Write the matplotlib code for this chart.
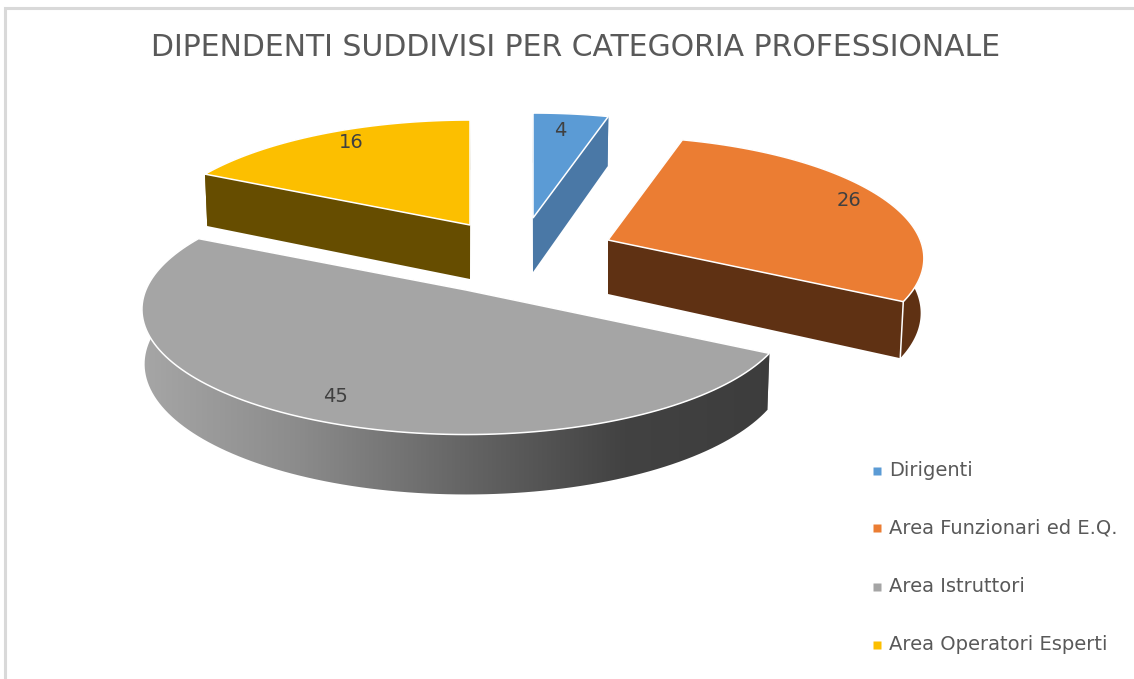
#!/usr/bin/env python3
# %%
import numpy as np
import matplotlib
matplotlib.use('Agg')
import matplotlib.pyplot as plt
from matplotlib.colors import LinearSegmentedColormap
from matplotlib.patches import Polygon, Rectangle

# %% data
title = 'DIPENDENTI SUDDIVISI PER CATEGORIA PROFESSIONALE'
categories = ['Dirigenti', 'Area Funzionari ed E.Q.', 'Area Istruttori',
              'Area Operatori Esperti']
values = [4, 26, 45, 16]

# %% settings (pixels of the 1134x679 image)
top_colors = ['#5b9bd5', '#eb7d33', '#a5a5a5', '#fcbf00']
side_colors = ['#4a78a6', '#5f3113', '#6e6e6e', '#664d00']
outer_colors = ['#4a78a6', '#5f3113', None, '#664d00']
apex = [(533, 218), (608, 240), (466, 290), (470, 225)]  # exploded slices
scale = [1., 0.985, 1.01, 1.]
label_xy = [(560, 131), (849, 200), (336, 396), (351, 142)]
legend_y = [471, 528, 587, 645]
draw_order = [3, 0, 1, 2]

rx = 317
ry = 121
persp = 0.153
depth = 54
vanish_x = 500  # side walls lean a bit towards this x
text_color = '#595959'


# %% define functions
def project(theta, center, r=1., drop=0.):
    u = r * np.sin(theta)
    v = r * np.cos(theta)
    s = 1. / (1. + persp * v)
    x = center[0] + rx * u * s
    x = x - (x - vanish_x) * 0.00014 * drop
    return (x, center[1] - ry * v * s + drop * (1 + 0.6 * (s - 1)))


def wall(t0, t1, center, r):
    # outer skin of a slice between two angles
    t = np.linspace(t0, t1, 120)
    xa, ya = project(t, center, r)
    xb, yb = project(t[::-1], center, r, depth)
    return np.column_stack([np.r_[xa, xb], np.r_[ya, yb]])


def cut(t, center, r):
    # flat cut face from the apex to the rim
    p0 = center
    p1 = project(t, center, r)
    p2 = project(t, center, r, depth)
    p3 = (center[0], center[1] + depth)
    return np.array([p0, p1, p2, p3])


# %% plot
fig = plt.figure(figsize=(11.34, 6.79), dpi=100)
ax = fig.add_axes([0, 0, 1, 1])
ax.set_xlim(0, 1134)
ax.set_ylim(679, 0)
ax.axis('off')

ax.add_patch(Rectangle((5, 8), 1140, 700, fc='white', ec='#d9d9d9', lw=2.2))

edges = np.r_[0, np.cumsum(values)] / np.sum(values) * 2 * np.pi
gray_map = LinearSegmentedColormap.from_list(
    'gray_skin', ['#a8a8a8', '#8c8c8c', '#666666', '#424242', '#3c3c3c'])

for i in draw_order:
    t0, t1 = edges[i], edges[i + 1]
    c = apex[i]
    r = scale[i]
    for t in [t0, t1]:
        ax.add_patch(Polygon(cut(t, c, r), fc=side_colors[i], ec='none'))
    skin = wall(t0, t1, c, r)
    if outer_colors[i] is None:
        patch = Polygon(skin, fc='none', ec='none')
        ax.add_patch(patch)
        im = ax.imshow(np.linspace(0, 1, 256)[None, :], cmap=gray_map,
                       aspect='auto', extent=(130, 790, 510, 220), zorder=1)
        im.set_clip_path(patch)
        ax.set_xlim(0, 1134)
        ax.set_ylim(679, 0)
    else:
        ax.add_patch(Polygon(skin, fc=outer_colors[i], ec='none'))
    t = np.linspace(t0, t1, 120)
    xt, yt = project(t, c, r)
    ax.add_patch(Polygon(np.column_stack([np.r_[c[0], xt], np.r_[c[1], yt]]),
                         fc=top_colors[i], ec='white', lw=1.1, zorder=2))

# seam between the two brown walls of the orange slice
seam = cut(edges[2], apex[1], scale[1])[1:3]
ax.plot(seam[:, 0], seam[:, 1], color='white', lw=1.1, zorder=2)

for val, (x, y) in zip(values, label_xy):
    ax.text(x, y, str(val), color='#404040', fontsize=14, ha='center',
            va='center', zorder=3)

ax.text(576, 47, title, color=text_color, fontsize=21.5, ha='center',
        va='center')

for name, col, y in zip(categories, top_colors, legend_y):
    ax.plot([877], [y], 's', color=col, ms=5.5, mec='none')
    ax.text(889, y, name, color=text_color, fontsize=14, ha='left',
            va='center')

fig.savefig('out.png', dpi=100)
